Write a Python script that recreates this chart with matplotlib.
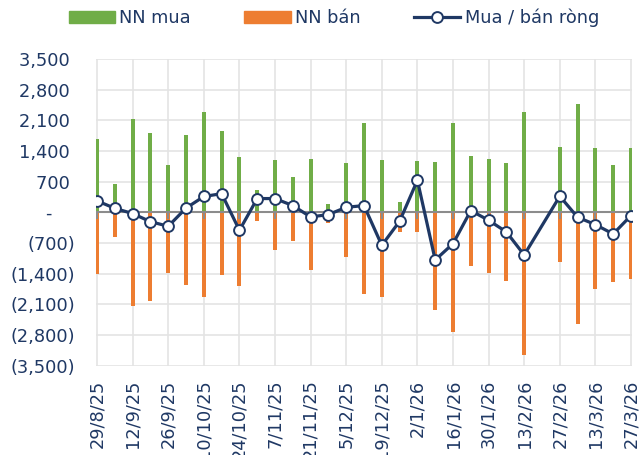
import numpy as np
import matplotlib
matplotlib.use("Agg")
import matplotlib.pyplot as plt
from matplotlib.lines import Line2D
from matplotlib.patches import Patch

# weekly foreign trading (NN = nhà đầu tư nước ngoài), week of 20/2/26 has no data (Tet)
weeks = ["29/8/25", "5/9/25", "12/9/25", "19/9/25", "26/9/25", "3/10/25", "10/10/25",
         "17/10/25", "24/10/25", "31/10/25", "7/11/25", "14/11/25", "21/11/25", "28/11/25",
         "5/12/25", "12/12/25", "19/12/25", "26/12/25", "2/1/26", "9/1/26", "16/1/26",
         "23/1/26", "30/1/26", "6/2/26", "13/2/26", "20/2/26", "27/2/26", "6/3/26",
         "13/3/26", "20/3/26", "27/3/26"]
nn_buy = [1662, 656, 2120, 1815, 1068, 1754, 2288, 1860, 1266, 518, 1190, 808, 1220, 198,
          1129, 2028, 1190, 244, 1174, 1150, 2044, 1281, 1220, 1129, 2288, np.nan, 1495,
          2463, 1472, 1090, 1464]
nn_sell = [-1411, -564, -2150, -2028, -1388, -1655, -1937, -1434, -1678, -206, -869, -656,
           -1312, -244, -1014, -1861, -1937, -450, -450, -2227, -2737, -1235, -1388, -1563,
           -3256, np.nan, -1136, -2554, -1746, -1586, -1525]
nn_net = [260, 90, -30, -215, -320, 95, 360, 425, -412, 313, 313, 152, -107, -53, 114, 152,
          -755, -206, 730, -1090, -717, 38, -183, -450, -976, np.nan, 366, -114, -282,
          -496, -76]
yticks = [3500, 2800, 2100, 1400, 700, 0, -700, -1400, -2100, -2800, -3500]

GREEN = "#70AD47"
ORANGE = "#ED7D31"
NAVY = "#1F3864"
GRID = "#E4E4E4"

plt.rcParams["font.family"] = ["DejaVu Sans"]
plt.rcParams["font.size"] = 12.8

fig = plt.figure(figsize=(6.42, 4.55), dpi=100)
ax = fig.add_axes([0.1495, 0.1967, 0.835, 0.6736])

x = np.arange(len(weeks))
ax.bar(x, nn_buy, width=0.22, color=GREEN, zorder=2)
ax.bar(x, nn_sell, width=0.22, color=ORANGE, zorder=2)

# zero line with small downward ticks at labelled weeks
ax.axhline(0, color="#8C8C8C", lw=1.5, zorder=3)
ax.plot(x[::2], np.zeros(len(x[::2])), ls="none", marker=3, ms=5, mew=1.5,
        color="#8C8C8C", zorder=3)

net = np.array(nn_net, dtype=float)
ok = ~np.isnan(net)
ax.plot(x[ok], net[ok], color=NAVY, lw=2.3, marker="o", ms=7.8, mfc="white",
        mec=NAVY, mew=1.4, zorder=4)

ax.set_xlim(-0.06, 30.06)
ax.set_ylim(-3500, 3500)

def fmt(v):
    if v == 0:
        return "-    "
    if v < 0:
        return "({:,})".format(-v)
    return "{:,} ".format(v)

ax.set_yticks(yticks)
ax.set_yticklabels([fmt(v) for v in yticks], color=NAVY)
ax.set_xticks(x[::2])
ax.set_xticklabels(weeks[::2], rotation=90, color=NAVY)
ax.tick_params(axis="y", length=0, pad=15)
ax.tick_params(axis="x", length=0, pad=10)

ax.grid(True, color=GRID, lw=1.2, zorder=0)
ax.set_axisbelow(True)
for s in ax.spines.values():
    s.set_visible(False)

handles = [Patch(color=GREEN), Patch(color=ORANGE),
           Line2D([], [], color=NAVY, lw=2.3, marker="o", ms=7.8, mfc="white",
                  mec=NAVY, mew=1.4)]
leg = fig.legend(handles, ["NN mua", "NN bán", "Mua / bán ròng"], loc="center",
                 bbox_to_anchor=(0.52, 0.96), ncol=3, frameon=False,
                 handlelength=2.6, handleheight=0.7, handletextpad=0.25,
                 columnspacing=3.0, borderaxespad=0)
for t in leg.get_texts():
    t.set_color(NAVY)

fig.savefig("out.png", dpi=100)
